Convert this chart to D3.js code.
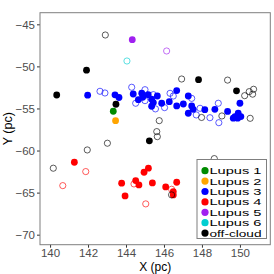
<!DOCTYPE html>
<html><head><meta charset="utf-8">
<script src="https://cdn.jsdelivr.net/npm/d3@7"></script>
<style>body{margin:0;background:#fff}svg{display:block}text{font-family:"Liberation Sans",Arial,sans-serif}</style>
</head><body><div id="chart"></div>
<script>
// ---- data ----
const groups = ["Lupus 1","Lupus 2","Lupus 3","Lupus 4","Lupus 5","Lupus 6","off-cloud"];
const groupColors = ["#008B00","#FFA500","#0000FF","#FF0000","#A020F0","#00CED1","#000000"];
const xTicks = [140,142,144,146,148,150];
const yTicks = [-45,-50,-55,-60,-65,-70];
// [x, y] pairs; filled = solid markers, open = hollow markers
const lupus1Filled = [[143.33,-55.33]];
const lupus2Filled = [[143.45,-56.45]];
const lupus3Filled = [[141.98,-53.42],[143.42,-53.38],[143.63,-53.70],[144.38,-53.28],[144.83,-53.18],[144.88,-53.67],[144.65,-53.95],[145.17,-53.36],[145.35,-53.90],[145.44,-54.30],[145.35,-54.74],[145.65,-53.52],[145.88,-54.38],[146.28,-54.19],[146.67,-52.88],[146.67,-54.70],[147.02,-54.47],[147.28,-53.52],[147.28,-55.57],[147.46,-54.70],[147.54,-55.10],[148.15,-55.15],[148.68,-55.10],[149.35,-55.35],[150.00,-54.38],[149.65,-56.16],[149.74,-55.97],[149.91,-55.57],[150.05,-55.97],[149.88,-56.16]];
const lupus3Open = [[142.63,-52.96],[142.89,-53.16],[144.30,-52.48],[144.51,-54.38],[145.00,-52.77],[145.44,-53.36],[145.00,-54.07],[145.55,-55.05],[146.03,-54.90],[146.32,-53.20],[146.49,-53.52],[147.46,-53.80],[147.90,-54.98],[148.42,-56.10],[148.86,-54.38],[148.89,-56.69],[147.70,-55.77]];
const lupus4Filled = [[141.28,-61.39],[143.77,-63.88],[143.95,-65.39],[144.51,-63.57],[144.68,-64.09],[144.95,-62.58],[145.18,-62.10],[145.39,-63.85],[146.09,-64.32],[146.67,-63.77],[146.49,-64.88],[146.49,-65.27]];
const lupus4Open = [[141.88,-62.50],[140.67,-64.17],[144.42,-63.97],[145.04,-66.34],[146.40,-64.60]];
const lupus5Filled = [[144.33,-46.83]];
const lupus5Open = [[146.14,-48.17]];
const lupus6Open = [[144.05,-49.36]];
const offFilled = [[140.35,-53.40],[141.92,-50.45],[143.47,-54.50],[147.82,-51.58],[149.82,-52.90],[145.23,-58.85]];
const offOpen = [[142.91,-46.27],[146.93,-51.50],[149.35,-51.63],[150.25,-53.48],[150.49,-53.00],[150.72,-52.72],[150.67,-53.30],[145.75,-56.45],[145.62,-57.75],[145.65,-58.35],[147.98,-56.07],[149.05,-55.89],[150.54,-56.17],[143.02,-59.13],[141.96,-59.93],[140.17,-62.10],[148.65,-60.96],[146.40,-65.27]];

const W=274,H=274;
const svg=d3.select("#chart").append("svg").attr("width",W).attr("height",H);
const L=40,R=270.3,T=12.7,B=244.7;
const x=d3.scaleLinear().domain([139.47,151.6]).range([L,R]);
const y=d3.scaleLinear().domain([-71.19,-43.62]).range([B,T]);
const color=d3.scaleOrdinal().domain(groups).range(groupColors);
const fmt=d=>d3.format("d")(d).replace("-","\u2212");

// axes
const xa=svg.append("g").attr("transform",`translate(0,${B})`).call(d3.axisBottom(x).tickValues(xTicks).tickSize(3).tickPadding(1).tickFormat(fmt));
const ya=svg.append("g").attr("transform",`translate(${L},0)`).call(d3.axisLeft(y).tickValues(yTicks).tickSize(3).tickPadding(2).tickFormat(fmt));
[xa,ya].forEach(a=>{a.select(".domain").remove();a.selectAll(".tick line").attr("stroke","#333");a.selectAll("text").attr("fill","#4D4D4D").attr("font-size",11.5).attr("font-family","Liberation Sans, Arial, sans-serif");});

// points
const layers=[
 {g:"Lupus 3",d:lupus3Open,open:true},{g:"Lupus 4",d:lupus4Open,open:true},{g:"Lupus 5",d:lupus5Open,open:true},{g:"Lupus 6",d:lupus6Open,open:true},
 {g:"Lupus 3",d:lupus3Filled},{g:"Lupus 4",d:lupus4Filled},{g:"Lupus 5",d:lupus5Filled},{g:"Lupus 1",d:lupus1Filled},{g:"Lupus 2",d:lupus2Filled},{g:"off-cloud",d:offFilled},
 {g:"off-cloud",d:offOpen,open:true}
];
const pg=svg.append("g");
layers.forEach(l=>{
  pg.selectAll(null).data(l.d).join("circle")
   .attr("cx",d=>x(d[0])).attr("cy",d=>y(d[1]))
   .attr("r",l.open?3.1:3.4)
   .attr("fill",l.open?"none":color(l.g))
   .attr("stroke",l.open?color(l.g):"none")
   .attr("stroke-width",l.open?0.8:0)
   .attr("stroke-opacity",0.8);
});

// panel border
svg.append("rect").attr("x",L).attr("y",T).attr("width",R-L).attr("height",B-T).attr("fill","none").attr("stroke","#7F7F7F").attr("stroke-width",1);

// titles
svg.append("text").attr("x",(L+R)/2).attr("y",270.5).attr("text-anchor","middle").attr("font-size",12).attr("fill","#000").text("X (pc)");
svg.append("text").attr("transform",`translate(12,${(T+B)/2}) rotate(-90)`).attr("text-anchor","middle").attr("font-size",12.5).attr("fill","#000").text("Y (pc)");

// legend
const lg=svg.append("g");
lg.append("rect").attr("x",197).attr("y",159.5).attr("width",69.5).attr("height",79).attr("fill","#fff").attr("stroke","#7F7F7F").attr("stroke-width",1);
groups.forEach((g,i)=>{
  const yy=170.7+i*10.4;
  lg.append("circle").attr("cx",205).attr("cy",yy).attr("r",3.6).attr("fill",color(g));
  lg.append("text").attr("x",209.5).attr("y",yy+3.4).attr("font-size",9.3).attr("fill","#000")
    .attr("textLength",52).attr("lengthAdjust","spacingAndGlyphs").text(g);
});
</script></body></html>
